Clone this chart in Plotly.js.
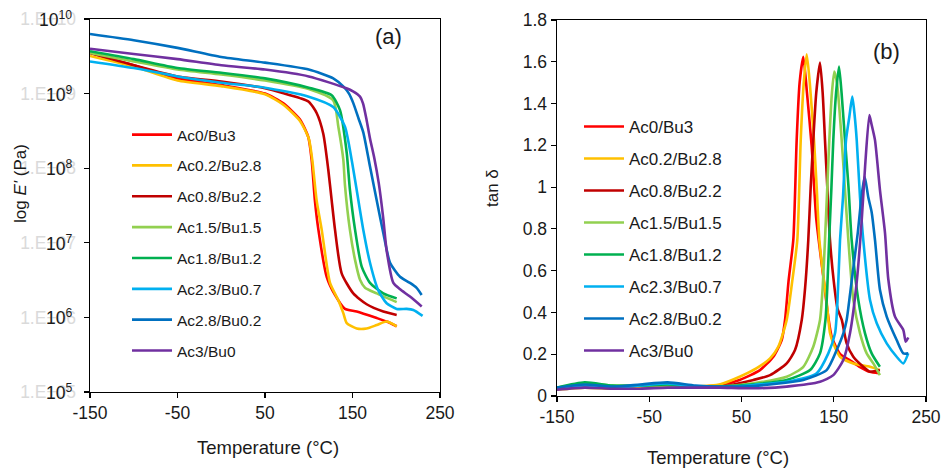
<!DOCTYPE html>
<html><head><meta charset="utf-8">
<script src="https://cdn.plot.ly/plotly-3.0.1.min.js"></script>
<style>html,body{margin:0;padding:0;background:#fff}#chart{width:942px;height:470px}</style>
</head><body><div id="chart"></div>
<script>
// ---------- series ----------
const seriesNames = ["Ac0/Bu3","Ac0.2/Bu2.8","Ac0.8/Bu2.2","Ac1.5/Bu1.5","Ac1.8/Bu1.2","Ac2.3/Bu0.7","Ac2.8/Bu0.2","Ac3/Bu0"];
const seriesColors = ["#FF0000","#FFC000","#C00000","#92D050","#00B050","#00B0F0","#0070C0","#7030A0"];

// ---------- (a) storage modulus E' (Pa) vs temperature (°C) ----------
const E_T_Ac0   = [-150,-100,-50,0,50,71,90,99.5,103.3,107,111,120.5,130,141.4,154.8,177.7,189,200.5];
const E_Ac0     = [3.5e9,2.4e9,1.6e9,1.3e9,1.0e9,7.4e8,4.5e8,2.6e8,1.3e8,3.7e7,1.5e7,3.5e6,2.0e6,1.3e6,1.2e6,9.8e5,8.8e5,7.6e5];
const E_T_Ac02  = [-150,-100,-50,0,50,71,90,100,104,109,114.8,124.3,133.8,139.5,143.4,154.8,166.2,177.7,189,200.5];
const E_Ac02    = [3.2e9,2.3e9,1.5e9,1.26e9,9.8e8,7.1e8,4.3e8,2.5e8,1.3e8,3.7e7,1.5e7,2.9e6,1.7e6,1.14e6,8.4e5,7.1e5,7.1e5,7.9e5,8.8e5,7.6e5];
const E_T_Ac08  = [-150,-100,-50,0,50,90,100,109,116.6,122.3,126.2,130,137.6,150.9,166.2,185.2,200.5];
const E_Ac08    = [3.5e9,2.4e9,1.7e9,1.45e9,1.18e9,8.7e8,7.8e8,5.5e8,2.9e8,9.6e7,3.7e7,1.5e7,3.9e6,2.1e6,1.5e6,1.2e6,1.08e6];
const E_T_Ac15  = [-150,-100,-50,0,50,100,128,133.8,139.5,141.4,147,152.9,158.6,164.3,177.7,200.5];
const E_Ac15    = [3.5e9,2.7e9,2.1e9,1.8e9,1.5e9,1.15e9,8.1e8,3.6e8,1.3e8,5.9e7,1.5e7,5.9e6,3.2e6,2.5e6,2.1e6,1.6e6];
const E_T_Ac18  = [-150,-100,-50,0,50,100,126.2,135.7,143.4,147,152.9,160.5,170,185.2,200.5];
const E_Ac18    = [3.7e9,2.9e9,2.2e9,1.9e9,1.6e9,1.2e9,9.5e8,6.0e8,1.6e8,5.2e7,1.5e7,4.8e6,2.9e6,2.1e6,1.8e6];
const E_T_Ac23  = [-150,-100,-50,0,50,100,128,141.4,149,154.8,162.3,170,179.5,189,200.5,211.9,219.5,230.1];
const E_Ac23    = [2.7e9,2.2e9,1.7e9,1.4e9,1.2e9,9.1e8,6.6e8,3.6e8,1.3e8,5.1e7,1.5e7,5.4e6,2.3e6,1.55e6,1.3e6,1.3e6,1.26e6,1.05e6];
const E_T_Ac28  = [-150,-100,-50,0,50,100,128,140,146,151,157,162.4,170,177.7,185.2,192.9,204.3,215.7,223,229];
const E_Ac28    = [6.3e9,5.2e9,4.1e9,3.1e9,2.6e9,2.1e9,1.6e9,1.23e9,1.0e9,7.4e8,4.6e8,3.0e8,1.05e8,3.7e7,1.35e7,5.4e6,3.5e6,2.9e6,2.5e6,2.0e6];
const E_T_Ac3   = [-150,-100,-50,0,50,100,143,150.6,158.6,162,166,170,175,180,185,189,196.7,204,215.7,229.1];
const E_Ac3     = [4.0e9,3.4e9,2.9e9,2.4e9,2.1e9,1.7e9,1.18e9,1.07e9,9.1e8,7.4e8,4.5e8,2.5e8,1.35e8,6.3e7,2.2e7,7.9e6,2.9e6,2.4e6,1.9e6,1.4e6];

// ---------- (b) tan delta vs temperature (°C) ----------
const D_T_Ac0   = [-150,-120,-90,-60,-30,0,27,48,70,84.5,93.6,97.2,101,106.2,109.8,113,117,121,126,131,135,139,144,148,157,168,178,189,199];
const D_Ac0     = [0.035,0.045,0.04,0.045,0.05,0.045,0.053,0.077,0.124,0.188,0.268,0.364,0.55,0.75,1.225,1.5,1.624,1.45,1.2,0.85,0.7,0.56,0.38,0.28,0.2,0.17,0.14,0.116,0.109];
const D_T_Ac02  = [-150,-120,-90,-60,-30,0,27,48,66.5,81,90,99,105,110.5,114.2,117.5,120.7,124,128.6,131.5,134.4,138,142.3,146,149.5,156.8,171.2,189.3,200];
const D_Ac02    = [0.03,0.04,0.035,0.04,0.045,0.045,0.056,0.092,0.133,0.18,0.236,0.364,0.55,0.747,1.225,1.5,1.636,1.5,1.225,1.0,0.747,0.6,0.45,0.3,0.252,0.188,0.156,0.14,0.124];
const D_T_Ac08  = [-150,-120,-90,-60,-30,0,27,63,81,99,108,115.3,119,122.4,125,127.8,131,135.1,138,140.5,143,145.9,150,154,158.7,164,171.2,182,189.3,200];
const D_Ac08    = [0.035,0.05,0.045,0.05,0.055,0.045,0.045,0.077,0.10,0.156,0.22,0.364,0.52,0.747,1.0,1.225,1.45,1.596,1.45,1.225,1.0,0.747,0.55,0.42,0.364,0.252,0.188,0.14,0.116,0.124];
const D_T_Ac15  = [-150,-120,-90,-60,-30,0,27,63,99,117,127.8,135.1,138,140.5,143,145.2,148,150.6,153.5,156,158.6,162,165.8,171.2,178.5,185.7,192.9,200];
const D_Ac15    = [0.04,0.06,0.05,0.05,0.05,0.045,0.045,0.061,0.092,0.14,0.236,0.364,0.52,0.747,1.0,1.225,1.45,1.553,1.5,1.38,1.225,1.0,0.747,0.46,0.30,0.204,0.156,0.10];
const D_T_Ac18  = [-150,-120,-90,-60,-30,0,27,63,99,124.3,135.1,141,143,145,147.5,149.5,152.5,155.7,158.5,162.2,166,169.4,176.6,183.9,191.1,200];
const D_Ac18    = [0.04,0.065,0.05,0.05,0.055,0.045,0.045,0.056,0.077,0.124,0.204,0.364,0.52,0.747,1.0,1.225,1.45,1.577,1.45,1.225,1.0,0.747,0.46,0.30,0.204,0.14];
const D_T_Ac23  = [-150,-120,-90,-60,-30,0,27,63,99,131.5,144.1,151.4,154,156.8,160,163.3,166.9,170.1,172.5,174.9,178.5,182,189.3,196.6,207.4,218.2,225.4,230.8];
const D_Ac23    = [0.035,0.05,0.04,0.05,0.06,0.045,0.04,0.053,0.068,0.109,0.204,0.30,0.45,0.747,0.95,1.225,1.337,1.433,1.35,1.225,0.95,0.747,0.46,0.348,0.252,0.188,0.156,0.204];
const D_T_Ac28  = [-150,-120,-90,-60,-30,0,27,63,117,142.3,153.2,160.4,164,168,172,176,180,183.5,187.5,191.1,194.7,200.1,207.4,218.2,225.4,230.8];
const D_Ac28    = [0.04,0.055,0.045,0.055,0.065,0.05,0.045,0.048,0.077,0.124,0.22,0.30,0.364,0.5,0.64,0.78,0.95,1.05,0.95,0.88,0.747,0.507,0.38,0.268,0.204,0.204];
const D_T_Ac3   = [-150,-120,-90,-60,-30,0,27,63,99,135.1,149.5,160.4,167.6,175,180.3,184,188.6,191,194.7,200.1,205.6,209.1,216.4,225.4,228,230.8];
const D_Ac3     = [0.03,0.04,0.035,0.035,0.04,0.04,0.04,0.037,0.045,0.068,0.10,0.172,0.30,0.55,0.84,1.1,1.345,1.3,1.225,0.986,0.779,0.56,0.38,0.316,0.26,0.28];

const E_T = [E_T_Ac0,E_T_Ac02,E_T_Ac08,E_T_Ac15,E_T_Ac18,E_T_Ac23,E_T_Ac28,E_T_Ac3];
const E_V = [E_Ac0,E_Ac02,E_Ac08,E_Ac15,E_Ac18,E_Ac23,E_Ac28,E_Ac3];
const D_T = [D_T_Ac0,D_T_Ac02,D_T_Ac08,D_T_Ac15,D_T_Ac18,D_T_Ac23,D_T_Ac28,D_T_Ac3];
const D_V = [D_Ac0,D_Ac02,D_Ac08,D_Ac15,D_Ac18,D_Ac23,D_Ac28,D_Ac3];

// ---------- tick labels ----------
const xTickVals = [-150,-50,50,150,250];
const xTickText = ["-150","-50","50","150","250"];
const eTickVals = [1e5,1e6,1e7,1e8,1e9,1e10];
const eTickExp  = [5,6,7,8,9,10];
const eTickFaint = ["1.E+05","1.E+06","1.E+07","1.E+08","1.E+09","1.E+10"];

// ---------- layout helpers (pixel -> paper) ----------
const W = 942, H = 470;
const px = v => v / W, py = v => 1 - v / H;
const FONT = "Liberation Sans, Arial, sans-serif";
const TXT = "#1a1a1a";

const traces = [];
seriesNames.forEach((n, i) => {
  traces.push({
    x: E_T[i], y: E_V[i], xaxis: "x", yaxis: "y", type: "scatter", mode: "lines",
    name: n, legend: "legend", legendgroup: "a" + i,
    line: {color: seriesColors[i], width: 2.6, shape: "spline", smoothing: 0.6},
    hoverinfo: "skip"
  });
});
seriesNames.forEach((n, i) => {
  traces.push({
    x: D_T[i], y: D_V[i], xaxis: "x2", yaxis: "y2", type: "scatter", mode: "lines",
    name: n, legend: "legend2", legendgroup: "b" + i,
    line: {color: seriesColors[i], width: 2.6, shape: "spline", smoothing: 0.6},
    hoverinfo: "skip"
  });
});

const axBase = {
  showline: true, mirror: true, linecolor: "#000", linewidth: 1.4,
  ticks: "outside", ticklen: 5, tickwidth: 1.2, tickcolor: "#000",
  showgrid: false, zeroline: false,
  tickfont: {family: FONT, size: 17.5, color: TXT}
};

const ann = (x, y, text, size, extra) => Object.assign({
  xref: "paper", yref: "paper", x: px(x), y: py(y), text: text, showarrow: false,
  xanchor: "center", yanchor: "middle", font: {family: FONT, size: size, color: TXT}
}, extra || {});

const annotations = [];
eTickExp.forEach(e => {
  annotations.push({
    xref: "paper", yref: "y", x: px(74), y: e, xanchor: "right", yanchor: "middle",
    text: "10<sup>" + e + "</sup>", showarrow: false,
    font: {family: FONT, size: 17.5, color: TXT}
  });
});
annotations.push(
  ann(388, 37, "(a)", 22),
  ann(886, 52, "(b)", 22),
  ann(20, 184, "log <i>E'</i> (Pa)", 17, {textangle: -90}),
  ann(492, 188, "tan δ", 17, {textangle: -90}),
  ann(268, 447, "Temperature (°C)", 18.5),
  ann(718, 457, "Temperature (°C)", 18.5)
);

const layout = {
  width: W, height: H, margin: {l: 0, r: 0, t: 0, b: 0},
  paper_bgcolor: "#fff", plot_bgcolor: "#fff",
  font: {family: FONT, color: TXT},
  xaxis: Object.assign({}, axBase, {domain: [px(90), px(440)], range: [-150, 250],
    tickvals: xTickVals, ticktext: xTickText, anchor: "y"}),
  yaxis: Object.assign({}, axBase, {domain: [py(392), py(19)], type: "log", range: [5, 10],
    tickvals: eTickVals, ticktext: eTickFaint, anchor: "x", ticklabelstandoff: 4,
    tickfont: {family: FONT, size: 17.5, color: "#dadada"}}),
  xaxis2: Object.assign({}, axBase, {domain: [px(557), px(926)], range: [-150, 250],
    tickvals: xTickVals, ticktext: xTickText, anchor: "y2"}),
  yaxis2: Object.assign({}, axBase, {domain: [py(396), py(20)], range: [0, 1.8], dtick: 0.2,
    tick0: 0, anchor: "x2"}),
  showlegend: true,
  legend: {x: px(127), y: py(118), xanchor: "left", yanchor: "top", bgcolor: "rgba(0,0,0,0)",
    traceorder: "grouped", tracegroupgap: 7.7, itemwidth: 40,
    font: {family: FONT, size: 15.5, color: TXT}},
  legend2: {x: px(579), y: py(109), xanchor: "left", yanchor: "top", bgcolor: "rgba(0,0,0,0)",
    traceorder: "grouped", tracegroupgap: 6.9, itemwidth: 40,
    font: {family: FONT, size: 17, color: TXT}},
  annotations: annotations
};

Plotly.newPlot("chart", traces, layout, {staticPlot: true, displayModeBar: false});
</script></body></html>
